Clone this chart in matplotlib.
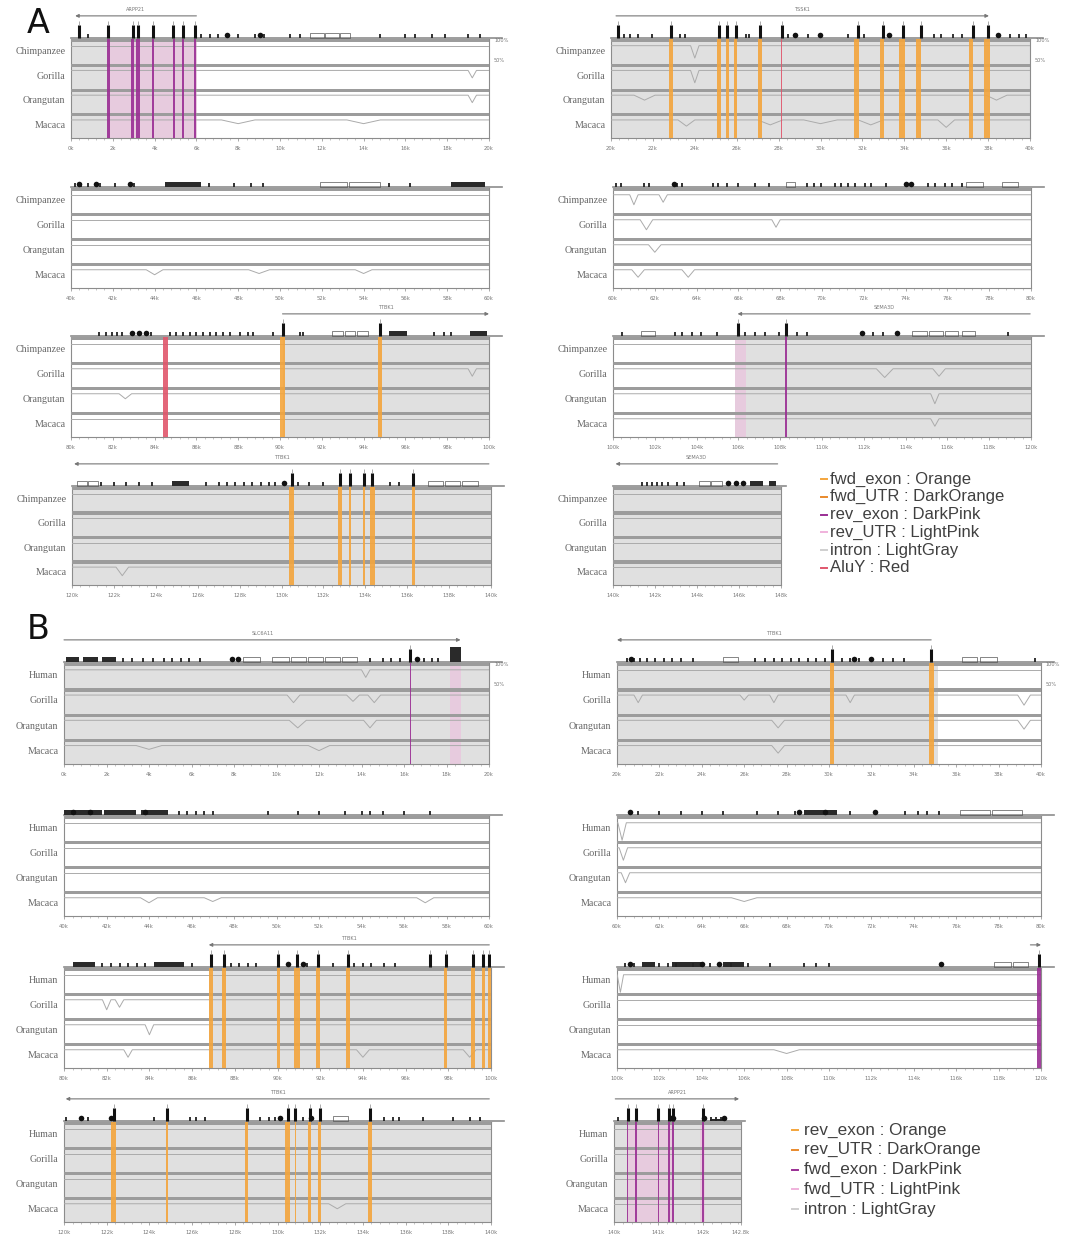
import matplotlib
matplotlib.use("Agg")
import matplotlib.pyplot as plt
from matplotlib.lines import Line2D

W, H = 1071, 1235

SPECIES_A = ["Chimpanzee", "Gorilla", "Orangutan", "Macaca"]
SPECIES_B = ["Human", "Gorilla", "Orangutan", "Macaca"]

COLORS = {"Orange": "#f4a53c", "DarkOrange": "#e98a2c", "DarkPink": "#9a2e94",
          "LightPink": "#f0b2dc", "LightGray": "#e0e0e0", "Red": "#e0566c"}

LEGEND_A = ["fwd_exon : Orange", "fwd_UTR : DarkOrange", "rev_exon : DarkPink",
            "rev_UTR : LightPink", "intron : LightGray", "AluY : Red"]
LEGEND_A_KEYS = ["Orange", "DarkOrange", "DarkPink", "LightPink", "LightGray", "Red"]
LEGEND_B = ["rev_exon : Orange", "rev_UTR : DarkOrange", "fwd_exon : DarkPink",
            "fwd_UTR : LightPink", "intron : LightGray"]
LEGEND_B_KEYS = ["Orange", "DarkOrange", "DarkPink", "LightPink", "LightGray"]

FULL_TICKS = [0, 10, 20, 30, 40, 50, 60, 70, 80, 90, 100]

# ---------------- panel data (positions in % of each panel window) ----------------
# A1 left
A1L_ticks = ["%dk" % v for v in range(0, 21, 2)]
A1L_gene = (1.0, 30.0, -1, "ARPP21")
A1L_intron = [(0, 30.1)]
A1L_utr = [(8.9, 30.1)]
A1L_exons = [(8.9, .7, "DarkPink"), (14.8, .7, "DarkPink"), (16.0, .9, "DarkPink"), (19.6, .6, "DarkPink"),
             (24.6, .6, "DarkPink"), (26.8, .6, "DarkPink"), (29.7, .6, "DarkPink")]
A1L_tall = [1.9, 8.9, 14.8, 16.0, 19.6, 24.4, 26.8, 29.7]
A1L_small = [4.1, 31.1, 33.3, 35.2, 40.0, 44.0, 46.2, 52.4, 54.8, 73.9, 79.9, 82.3, 86.4, 89.5, 95.0, 97.8]
A1L_blobs = [37.3, 45.2]
A1L_boxes = [(57.2, 60.5), (60.8, 64.0), (64.3, 66.7)]
A1L_blocks = []
A1L_dips = [(1, 96, .3, 2), (2, 96, .3, 2), (3, 40, .15, 8), (3, 70, .15, 8)]

# A1 right
A1R_ticks = ["%dk" % v for v in range(20, 41, 2)]
A1R_gene = (1.2, 90.2, 1, "TSSK1")
A1R_intron = [(0, 100)]
A1R_utr = []
A1R_exons = [(14.4, 1.0, "Orange"), (25.8, .8, "Orange"), (27.8, .8, "Orange"), (29.7, .8, "Orange"),
             (35.6, 1.0, "Orange"), (40.7, .35, "Red"), (58.6, 1.0, "Orange"), (64.6, 1.0, "Orange"),
             (69.4, 1.3, "Orange"), (73.4, 1.0, "Orange"), (85.9, 1.0, "Orange"), (89.7, 1.3, "Orange")]
A1R_tall = [1.7, 14.4, 25.8, 27.8, 29.9, 35.6, 40.7, 58.9, 64.8, 69.6, 73.9, 86.4, 90.0]
A1R_small = [3.1, 4.5, 6.5, 9.8, 16.5, 17.7, 32.3, 33.0, 42.3, 47.1, 56.5, 60.5, 77.0, 78.7, 81.6,
             83.7, 95.2, 97.4, 99.0]
A1R_blobs = [44.0, 49.8, 66.3, 92.3]
A1R_boxes = []
A1R_blocks = []
A1R_dips = [(0, 20, .5, 2), (1, 20, .5, 2), (2, 8, .2, 5), (3, 18, .25, 4), (3, 38, .2, 6),
            (3, 50, .15, 8), (3, 62, .2, 6), (3, 80, .3, 4), (2, 92, .2, 5)]

# A2 left
A2L_ticks = ["%dk" % v for v in range(40, 61, 2)]
A2L_gene = None
A2L_intron = []
A2L_utr = []
A2L_exons = []
A2L_tall = []
A2L_small = [1, 2.5, 4, 7, 10.5, 15, 33, 39, 43, 46, 76, 81]
A2L_blobs = [2, 6, 14]
A2L_boxes = [(59.5, 66), (66.5, 74)]
A2L_blocks = [(22.5, 31.0, .14), (91, 99, .14)]
A2L_dips = [(3, 20, .2, 4), (3, 45, .15, 5), (3, 70, .15, 4)]

# A2 right
A2R_ticks = ["%dk" % v for v in range(60, 81, 2)]
A2R_gene = None
A2R_intron = []
A2R_utr = []
A2R_exons = []
A2R_tall = []
A2R_small = [0.8, 1.8, 7.5, 8.7, 15.3, 16.6, 24.0, 25.2, 27.3, 29.8, 33.9, 37.3, 46.4, 48.0, 49.7, 53.0,
             54.6, 56.3, 57.9, 60.4, 61.7, 65.4, 75.3, 77.0, 79.5, 81.1, 83.6]
A2R_blobs = [14.5, 70.0, 71.2]
A2R_boxes = [(41.4, 43.5), (84.5, 88.5), (93.0, 97.0)]
A2R_blocks = []
A2R_dips = [(0, 5, .4, 2), (0, 12, .3, 2), (1, 8, .4, 3), (1, 39, .3, 2), (2, 10, .3, 3),
            (3, 6, .3, 3), (3, 18, .3, 3)]

# A3 left
A3L_ticks = ["%dk" % v for v in range(80, 101, 2)]
A3L_gene = (50.6, 100, 1, "TTBK1")
A3L_intron = [(50.6, 100)]
A3L_utr = []
A3L_exons = [(22.5, 1.2, "Red"), (50.6, 1.0, "Orange"), (74.0, 1.0, "Orange")]
A3L_tall = [50.6, 74.0]
A3L_small = [6.7, 8.3, 9.9, 11.1, 12.3, 19.2, 23.6, 25.2, 26.8, 28.4, 30.0, 31.6, 33.2, 34.8, 36.4, 38.0,
             40.4, 42.4, 43.6, 48.4, 54.8, 55.6, 86.9, 89.3, 90.9]
A3L_blobs = [14.7, 16.3, 17.9]
A3L_boxes = [(62.5, 65), (65.5, 68), (68.5, 71)]
A3L_blocks = [(76.0, 80.5, .14), (95.5, 99.5, .14)]
A3L_dips = [(1, 96, .3, 2), (2, 13, .2, 3)]

# A3 right
A3R_ticks = ["%dk" % v for v in range(100, 121, 2)]
A3R_gene = (29.8, 99.8, -1, "SEMA3D")
A3R_intron = [(29.2, 100)]
A3R_utr = [(29.2, 31.9)]
A3R_exons = [(41.4, .35, "DarkPink")]
A3R_tall = [29.8, 41.4]
A3R_small = [2.1, 14.9, 16.6, 19.0, 21.1, 24.8, 31.5, 33.9, 36.4, 39.7, 43.9, 46.4, 62.1, 64.6, 94.4]
A3R_blobs = [59.6, 67.9]
A3R_boxes = [(6.6, 10.0), (71.5, 75), (75.5, 79), (79.5, 82.5), (83.5, 86.5)]
A3R_blocks = []
A3R_dips = [(1, 65, .35, 4), (1, 78, .3, 3), (2, 77, .4, 2), (3, 77, .3, 2)]

# A4 left
A4L_ticks = ["%dk" % v for v in range(120, 141, 2)]
A4L_gene = (0.5, 99.5, -1, "TTBK1")
A4L_intron = [(0, 100)]
A4L_utr = []
A4L_exons = [(52.4, 1.4, "Orange"), (64.0, .9, "Orange"), (66.4, .6, "Orange"), (69.6, .5, "Orange"),
             (71.7, 1.2, "Orange"), (81.5, .9, "Orange")]
A4L_tall = [52.4, 64.0, 66.4, 69.6, 71.7, 81.5]
A4L_small = [7, 10, 13, 16, 19, 32, 35, 37, 39, 41, 43, 45, 47, 48.5, 54, 56.5, 60, 76, 78]
A4L_blobs = [50.5]
A4L_boxes = [(1.2, 3.5), (3.8, 6.1), (85, 88.5), (89, 92.5), (93, 97)]
A4L_blocks = [(23.9, 28.0, .14)]
A4L_dips = [(3, 12, .35, 3)]

# A4 right (short window)
A4R_ticks = ["140k", "142k", "144k", "146k", "148k"]
A4R_gene = (1.5, 98, -1, "SEMA3D")
A4R_intron = [(0, 100)]
A4R_utr = []
A4R_exons = []
A4R_tall = []
A4R_small = [17, 20, 23, 26, 29, 33, 38, 42]
A4R_blobs = [68.4, 73.4, 77.5]
A4R_boxes = [(51, 58), (58.5, 65)]
A4R_blocks = [(81.5, 89.5, .14), (93, 97, .14)]
A4R_dips = []

# B1 left
B1L_ticks = ["%dk" % v for v in range(0, 21, 2)]
B1L_gene = (0, 93.3, 1, "SLC6A11")
B1L_intron = [(0, 100)]
B1L_utr = [(90.9, 93.3)]
B1L_exons = [(81.5, .35, "DarkPink")]
B1L_tall = [81.5]
B1L_small = [13.8, 16, 18.5, 21, 23.5, 25.5, 27.5, 29.5, 31.9, 72, 75, 77, 79, 84.6, 86.5, 88]
B1L_blobs = [39.5, 41, 83]
B1L_boxes = [(42, 46), (49, 53), (53.5, 57), (57.5, 61), (61.5, 65), (65.5, 69)]
B1L_blocks = [(0.4, 3.5, .14), (4.5, 8.0, .14), (9.0, 12.2, .14), (90.9, 93.3, .45)]
B1L_dips = [(0, 71, .3, 2), (1, 54, .3, 3), (1, 68, .25, 3), (1, 73, .3, 3), (2, 55, .3, 4),
            (2, 72, .3, 3), (3, 20, .15, 6), (3, 60, .2, 5)]

# B1 right
B1R_ticks = ["%dk" % v for v in range(20, 41, 2)]
B1R_gene = (0, 74.1, -1, "TTBK1")
B1R_intron = [(0, 75.7)]
B1R_utr = []
B1R_exons = [(50.7, 1.0, "Orange"), (74.1, 1.2, "Orange")]
B1R_tall = [50.7, 74.1]
B1R_small = [2.4, 4, 5.5, 7, 9, 11, 13, 15, 17.9, 32.6, 35, 37, 39, 41, 43, 45, 47, 49, 53, 55, 57,
             62.7, 65, 67.6, 98.5]
B1R_blobs = [3.2, 56, 60.0]
B1R_boxes = [(25, 28.5), (81.4, 85), (85.5, 89.6)]
B1R_blocks = []
B1R_dips = [(1, 5, .3, 2), (1, 30, .2, 2), (1, 37, .3, 2), (1, 55, .3, 2), (1, 96, .4, 3),
            (2, 38, .3, 3), (2, 96, .35, 3), (3, 38, .3, 3)]

# B2 left
B2L_ticks = ["%dk" % v for v in range(40, 61, 2)]
B2L_gene = None
B2L_intron = []
B2L_utr = []
B2L_exons = []
B2L_tall = []
B2L_small = [27, 29, 31, 33, 35, 48, 55, 60, 66, 70, 72, 75, 80, 86]
B2L_blobs = [2.0, 6.0, 19.0]
B2L_boxes = []
B2L_blocks = [(0, 9, .14), (9.5, 17, .14), (18, 24.5, .14)]
B2L_dips = [(3, 20, .2, 4), (3, 35, .15, 4), (3, 85, .2, 4)]

# B2 right
B2R_ticks = ["%dk" % v for v in range(60, 81, 2)]
B2R_gene = None
B2R_intron = []
B2R_utr = []
B2R_exons = []
B2R_tall = []
B2R_small = [5, 10, 15, 20, 25, 33, 38, 42, 55, 68, 71, 73, 76]
B2R_blobs = [3, 43, 49, 60.8]
B2R_boxes = [(81, 88), (88.5, 95.5)]
B2R_blocks = [(44, 52, .14)]
B2R_dips = [(0, 1.2, .7, 2), (1, 1.5, .5, 2), (2, 2, .4, 2), (3, 30, .15, 6)]

# B3 left
B3L_ticks = ["%dk" % v for v in range(80, 101, 2)]
B3L_gene = (33.9, 99.6, -1, "TTBK1")
B3L_intron = [(33.9, 100)]
B3L_utr = []
B3L_exons = [(34.4, 1.0, "Orange"), (37.5, .8, "Orange"), (50.2, .8, "Orange"), (54.6, 1.4, "Orange"),
             (59.5, .9, "Orange"), (66.5, .9, "Orange"), (89.4, .8, "Orange"), (95.8, .8, "Orange"),
             (98.2, .8, "Orange"), (99.6, .6, "Orange")]
B3L_tall = [34.4, 37.5, 50.2, 54.6, 59.5, 66.5, 85.7, 89.4, 95.8, 98.2, 99.6]
B3L_small = [9, 11, 13, 15, 17, 19, 30, 39, 41, 43, 45, 57, 63, 68, 70, 72, 75, 77.5]
B3L_blobs = [52.5, 56]
B3L_boxes = []
B3L_blocks = [(2, 7.2, .14), (21, 28, .14)]
B3L_dips = [(1, 10, .4, 2), (1, 13, .3, 2), (2, 20, .4, 2), (3, 15, .3, 2), (3, 70, .3, 3), (3, 95, .3, 3)]

# B3 right
B3R_ticks = ["%dk" % v for v in range(100, 121, 2)]
B3R_gene = (97.5, 100, 1, "")
B3R_intron = []
B3R_utr = []
B3R_exons = [(99.5, .8, "DarkPink")]
B3R_tall = [99.5]
B3R_small = [2, 4, 10, 12, 14, 18, 22, 27, 31, 36, 44, 47, 50]
B3R_blobs = [3, 20, 24, 76.5]
B3R_boxes = [(89, 93), (93.5, 97)]
B3R_blocks = [(6, 9, .14), (13, 20, .14), (25, 30, .14)]
B3R_dips = [(0, 0.8, .7, 1.5), (3, 40, .15, 6)]

# B4 left
B4L_ticks = ["%dk" % v for v in range(120, 141, 2)]
B4L_gene = (0.4, 99.6, -1, "TTBK1")
B4L_intron = [(0, 100)]
B4L_utr = []
B4L_exons = [(11.6, 1.0, "Orange"), (24.1, .4, "Orange"), (42.8, .8, "Orange"), (52.4, 1.1, "Orange"),
             (54.2, .4, "Orange"), (57.5, .6, "Orange"), (59.9, .7, "Orange"), (71.7, 1.0, "Orange")]
B4L_tall = [11.6, 24.1, 42.8, 52.4, 54.2, 57.5, 59.9, 71.7]
B4L_small = [0.4, 5.6, 21, 29.5, 31, 33, 46, 48, 49.5, 56, 75, 77, 78.5, 84, 91, 95, 97.5]
B4L_blobs = [4.0, 11.0, 50.5, 57.8]
B4L_boxes = [(62.9, 66.5)]
B4L_blocks = []
B4L_dips = [(3, 64, .2, 4)]

# B4 right (short window)
B4R_ticks = ["140k", "141k", "142k", "142.8k"]
B4R_gene = (1, 98.5, 1, "ARPP21")
B4R_intron = [(0, 100)]
B4R_utr = [(10.8, 47.0), (68, 72)]
B4R_exons = [(10.8, 1.2, "DarkPink"), (17.5, 1.2, "DarkPink"), (34.9, 1.2, "DarkPink"),
             (43.5, 1.6, "DarkPink"), (46.8, 1.6, "DarkPink"), (70.4, 1.6, "DarkPink")]
B4R_tall = [10.8, 17.5, 34.9, 43.5, 46.8, 70.4]
B4R_small = [3.2, 76, 80, 84]
B4R_blobs = [44.5, 46.5, 70.5, 86.6]
B4R_boxes = []
B4R_blocks = [(75.8, 86.6, .06)]
B4R_dips = []

# ---------------- layout (figure pixels: x0, x1, track top, track bottom) ----------------
fig = plt.figure(figsize=(W / 100, H / 100), dpi=100)


def pack(prefix):
    g = globals()
    return {k: g[prefix + "_" + k] for k in
            ["ticks", "gene", "intron", "utr", "exons", "tall", "small", "blobs", "boxes", "blocks", "dips"]}


def draw_panel(rect, species, d, tickpos, pct=False):
    x0, x1, yt, yb = rect
    ax = fig.add_axes([x0 / W, 1 - yb / H, (x1 - x0) / W, (yb - yt) / H])
    ax.set_xlim(0, 100)
    ax.set_ylim(4, 0)
    ax.set_facecolor("white")
    for s, e in d["intron"]:
        ax.axvspan(s, e, color=COLORS["LightGray"], lw=0, zorder=0)
    for s, e in d["utr"]:
        ax.axvspan(s, e, color=COLORS["LightPink"], alpha=0.45, lw=0, zorder=1)
    for p, w, c in d["exons"]:
        ax.axvspan(p - w / 2, p + w / 2, color=COLORS[c], alpha=0.9, lw=0, zorder=4)
    for i in range(4):
        ax.fill_between([0, 100], [i, i], [i + 0.13, i + 0.13], color="#9c9c9c", lw=0, zorder=3)
        base = i + 0.27
        xs, ys = [0], [base]
        for (sp, p, dep, w) in sorted([t for t in d["dips"] if t[0] == i], key=lambda t: t[1]):
            xs += [max(p - w / 2, 0), p, min(p + w / 2, 100)]
            ys += [base, base + dep, base]
        xs.append(100)
        ys.append(base)
        ax.plot(xs, ys, color="#ababab", lw=0.7, zorder=3)
        ax.annotate(species[i], xy=(0, i + 0.5), xycoords=("axes fraction", "data"),
                    xytext=(-4, 0), textcoords="offset points", ha="right", va="center",
                    fontsize=7.2, family="Liberation Serif", color="#666666")
    for sp in ax.spines.values():
        sp.set_color("#8c8c8c")
        sp.set_linewidth(0.8)
    ax.set_yticks([])
    ax.set_xticks(tickpos)
    ax.set_xticklabels(d["ticks"], fontsize=3.8, color="#777777")
    step = tickpos[1] - tickpos[0]
    ax.set_xticks([v for v in [k * step / 5 for k in range(0, 60)] if v <= 100], minor=True)
    ax.tick_params(axis="x", which="major", length=2.5, width=0.5, color="#888888", pad=3)
    ax.tick_params(axis="x", which="minor", length=1.2, width=0.4, color="#999999")

    # annotation strip
    an = fig.add_axes([x0 / W, 1 - yt / H, (x1 - x0) / W, 34 / H])
    an.set_xlim(0, 100)
    an.set_ylim(0, 1)
    an.axis("off")
    an.plot([0, 103], [0.02, 0.02], color="#8c8c8c", lw=1.2, clip_on=False, zorder=1)
    for s, e in d["boxes"]:
        an.add_patch(plt.Rectangle((s, 0.03), e - s, 0.14, fill=False, ec="#555555", lw=0.5))
    for s, e, h in d["blocks"]:
        an.add_patch(plt.Rectangle((s, 0.03), e - s, h, color="#2a2a2a", lw=0))
    if d["small"]:
        an.vlines(d["small"], 0.03, 0.16, color="#222222", lw=1.3)
    if d["tall"]:
        an.vlines(d["tall"], 0.03, 0.40, color="#111111", lw=2.2)
        an.vlines(d["tall"], 0.40, 0.52, color="#888888", lw=0.5)
    if d["blobs"]:
        an.scatter(d["blobs"], [0.12] * len(d["blobs"]), s=16, color="#111111", lw=0, zorder=3)
    if d["gene"] is not None:
        s, e, dirn, name = d["gene"]
        tail, head = (s, e) if dirn > 0 else (e, s)
        an.annotate("", xy=(head, 0.68), xytext=(tail, 0.68),
                    arrowprops=dict(arrowstyle="-|>", color="#777777", lw=0.8, mutation_scale=5,
                                    shrinkA=0, shrinkB=0))
        an.text((s + e) / 2, 0.86, name, ha="center", va="center", fontsize=3.6, color="#777777")
    if pct:
        fig.text((x1 + 5) / W, 1 - (yt + 1) / H, "100%", fontsize=3.6, color="#777777", va="center")
        fig.text((x1 + 5) / W, 1 - (yt + 21) / H, "50%", fontsize=3.6, color="#777777", va="center")


SHORT_A = [0, 25, 50, 75, 100]
SHORT_B = [0, 35, 70, 100]
panels = [
    ("A1L", (71, 489, 39, 138), SPECIES_A, FULL_TICKS, True),
    ("A1R", (611, 1030, 39, 138), SPECIES_A, FULL_TICKS, True),
    ("A2L", (71, 489, 188, 288), SPECIES_A, FULL_TICKS, False),
    ("A2R", (613, 1031, 188, 288), SPECIES_A, FULL_TICKS, False),
    ("A3L", (71, 489, 337, 437), SPECIES_A, FULL_TICKS, False),
    ("A3R", (613, 1031, 337, 437), SPECIES_A, FULL_TICKS, False),
    ("A4L", (72, 491, 487, 585), SPECIES_A, FULL_TICKS, False),
    ("A4R", (613, 781, 487, 585), SPECIES_A, SHORT_A, False),
    ("B1L", (64, 489, 663, 764), SPECIES_B, FULL_TICKS, True),
    ("B1R", (617, 1041, 663, 764), SPECIES_B, FULL_TICKS, True),
    ("B2L", (64, 489, 816, 916), SPECIES_B, FULL_TICKS, False),
    ("B2R", (617, 1041, 816, 916), SPECIES_B, FULL_TICKS, False),
    ("B3L", (64, 491, 968, 1068), SPECIES_B, FULL_TICKS, False),
    ("B3R", (617, 1041, 968, 1068), SPECIES_B, FULL_TICKS, False),
    ("B4L", (64, 491, 1122, 1222), SPECIES_B, FULL_TICKS, False),
    ("B4R", (614, 741, 1122, 1222), SPECIES_B, SHORT_B, False),
]
for key, rect, sp, tp, pct in panels:
    draw_panel(rect, sp, pack(key), tp, pct)


def legend(labels, keys, x_marker, x_text, y_first, dy, fs):
    for k, (lab, key) in enumerate(zip(labels, keys)):
        y = 1 - (y_first + k * dy) / H
        col = COLORS[key] if key != "LightGray" else "#cfcfcf"
        fig.add_artist(Line2D([(x_marker) / W, (x_marker + 6) / W], [y, y], color=col, lw=1.4))
        fig.text(x_text / W, y, lab, fontsize=fs, color="#404040", va="center",
                 family="Liberation Sans")


legend(LEGEND_A, LEGEND_A_KEYS, 821, 830, 479, 17.8, 12)
legend(LEGEND_B, LEGEND_B_KEYS, 792, 804, 1130, 19.8, 12.3)

fig.text(27 / W, 1 - 33 / H, "A", fontsize=24, color="#111111", family="DejaVu Sans")
fig.text(27 / W, 1 - 639 / H, "B", fontsize=24, color="#111111", family="DejaVu Sans")

fig.savefig("out.png", dpi=100)
